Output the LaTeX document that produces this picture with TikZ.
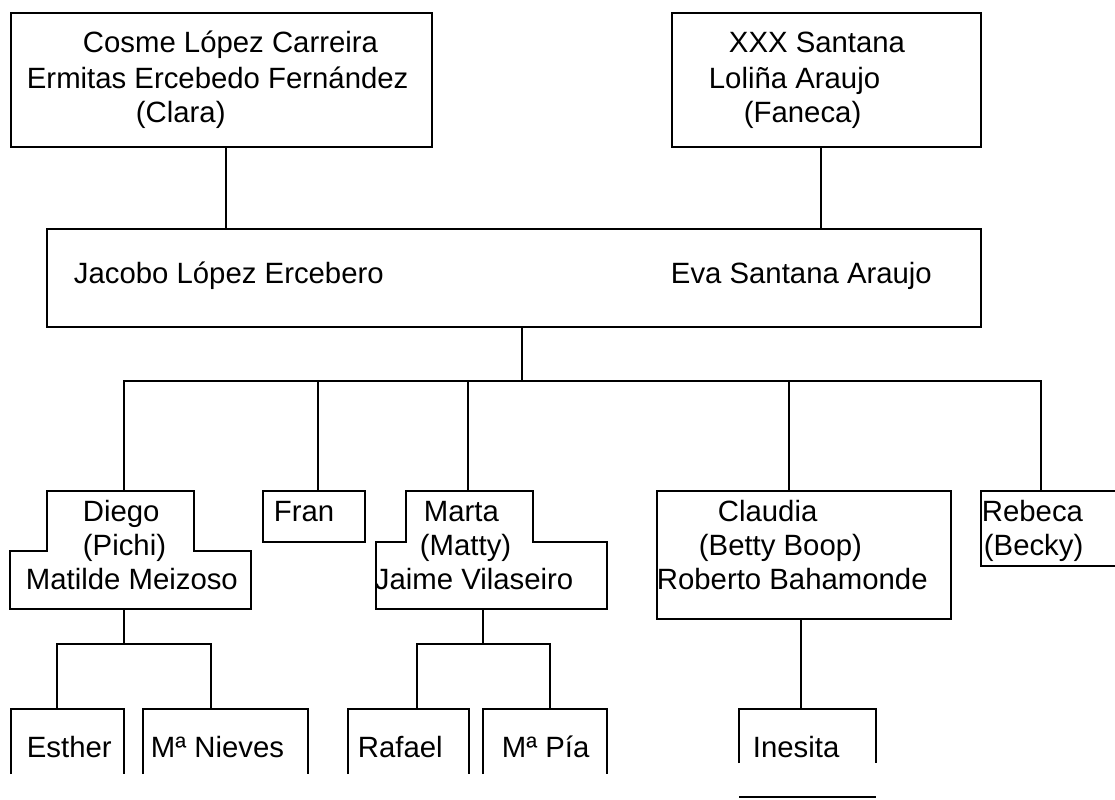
\documentclass[tikz,border=0pt]{standalone}
\usepackage{fontspec}
\setmainfont{Liberation Sans}
\usetikzlibrary{fit}

\begin{document}
\begin{tikzpicture}[x=0.75pt,y=-0.75pt,line width=1.4pt,line join=miter,
  caja/.style={draw,inner sep=0pt},
  nombre/.style={anchor=base west,inner sep=0pt,font=\fontsize{22}{26}\selectfont}]
  \useasboundingbox (0,0) rectangle (1115,800);
  % abuelos
  \node[caja,fit={(11,13) (432,147)}] (abuelosL) {};
  \node[caja,fit={(672,13) (981,147)}] (abuelosS) {};
  \node[nombre] (cosme) at (82,52) {Cosme López Carreira};
  \node[nombre] (ermitas) at (26,88) {Ermitas Ercebedo Fernández};
  \node[nombre] (clara) at (135,122) {(Clara)};
  \node[nombre] (xxx) at (728,52) {XXX Santana};
  \node[nombre] (lolina) at (708,88) {Loliña Araujo};
  \node[nombre] (faneca) at (743,122) {(Faneca)};
  % padres
  \node[caja,fit={(47,229) (981,327)}] (padres) {};
  \node[nombre] (jacobo) at (73,283) {Jacobo López Ercebero};
  \node[nombre] (eva) at (670,283) {Eva Santana Araujo};
  \coordinate (bajaL) at (226,147);
  \coordinate (bajaS) at (821,147);
  \draw (bajaL) -- (bajaL |- padres.north);
  \draw (bajaS) -- (bajaS |- padres.north);
  % hijos
  \coordinate (diego-t) at (124,491);
  \coordinate (fran-t) at (318,491);
  \coordinate (marta-t) at (468,491);
  \coordinate (claudia-t) at (789,491);
  \coordinate (rebeca-t) at (1041,491);
  \coordinate (hijos) at (522,381);
  \draw (hijos |- padres.south) -- (hijos);
  \draw (diego-t) |- (rebeca-t |- hijos) -- (rebeca-t);
  \foreach \h in {fran,marta,claudia}
    \draw (\h-t) -- (\h-t |- hijos);
  \draw (47,491) -- (194,491) -- (194,551) -- (251,551) -- (251,609)
    -- (10,609) -- (10,551) -- (47,551) -- cycle;
  \node[caja,fit={(263,491) (365,542)}] (fran) {};
  \draw (406,491) -- (533,491) -- (533,542) -- (607,542) -- (607,609)
    -- (376,609) -- (376,542) -- (406,542) -- cycle;
  \node[caja,fit={(657,491) (951,619)}] (claudia) {};
  \draw (1120,491) -- (981,491) -- (981,566) -- (1120,566);
  \node[nombre] (diego) at (82,521) {Diego};
  \node[nombre] (pichi) at (82,555) {(Pichi)};
  \node[nombre] (matilde) at (25,589) {Matilde Meizoso};
  \node[nombre] (fran-n) at (273,521) {Fran};
  \node[nombre] (marta) at (423,521) {Marta};
  \node[nombre] (matty) at (419,555) {(Matty)};
  \node[nombre] (jaime) at (374,589) {Jaime Vilaseiro};
  \node[nombre] (claudia-n) at (717,521) {Claudia};
  \node[nombre] (betty) at (698,555) {(Betty Boop)};
  \node[nombre] (roberto) at (656,589) {Roberto Bahamonde};
  \node[nombre] (rebeca) at (981,521) {Rebeca};
  \node[nombre] (becky) at (983,555) {(Becky)};
  % nietos
  \coordinate (diego-b) at (124,609);
  \coordinate (marta-b) at (483,609);
  \coordinate (ramaD) at (124,644);
  \coordinate (ramaM) at (483,644);
  \coordinate (esther-t) at (57,709);
  \coordinate (nieves-t) at (211,709);
  \coordinate (rafael-t) at (417,709);
  \coordinate (pia-t) at (550,709);
  \coordinate (inesita-t) at (801,709);
  \draw (diego-b) -- (ramaD);
  \draw (esther-t) |- (nieves-t |- ramaD) -- (nieves-t);
  \draw (marta-b) -- (ramaM);
  \draw (rafael-t) |- (pia-t |- ramaM) -- (pia-t);
  \draw (inesita-t |- claudia.south) -- (inesita-t);
  \draw (11,774) -- (11,709) -- (124,709) -- (124,774);
  \draw (143,774) -- (143,709) -- (308,709) -- (308,774);
  \draw (348,774) -- (348,709) -- (469,709) -- (469,774);
  \draw (483,774) -- (483,709) -- (607,709) -- (607,774);
  \draw (739,763) -- (739,709) -- (876,709) -- (876,763);
  \draw (739,797) -- (876,797);
  \node[nombre] (esther) at (26,757) {Esther};
  \node[nombre] (nieves) at (150,757) {Mª Nieves};
  \node[nombre] (rafael) at (357,757) {Rafael};
  \node[nombre] (pia) at (501,757) {Mª Pía};
  \node[nombre] (inesita) at (752,757) {Inesita};
\end{tikzpicture}
\end{document}
